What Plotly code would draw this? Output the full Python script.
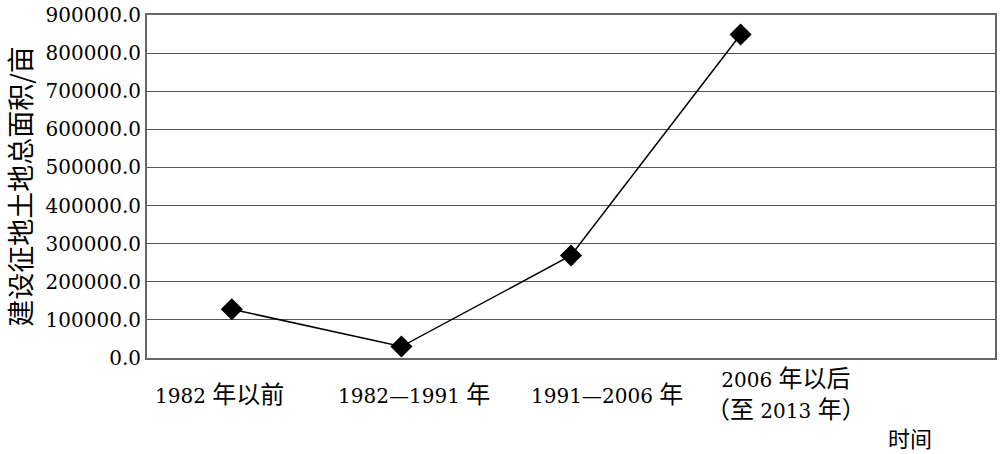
import plotly.graph_objects as go

categories = ["1982 年以前", "1982—1991 年", "1991—2006 年", "2006 年以后<br>（至 2013 年）"]
values = [128000, 30000, 269000, 849000]
y_ticks = [0, 100000, 200000, 300000, 400000, 500000, 600000, 700000, 800000, 900000]
y_title = "建设征地土地总面积/亩"
x_title = "时间"

SERIF = "'DejaVu Serif', 'Liberation Serif', serif"
CJK = "'Noto Sans CJK SC'"
label_shift = [-12, 13, 36, 45]

x_idx = list(range(len(categories)))

fig = go.Figure()
fig.add_trace(go.Scatter(
    x=x_idx, y=values, mode="lines+markers",
    line=dict(color="black", width=1.5),
    marker=dict(symbol="diamond", size=17, color="black"),
    showlegend=False,
))

def mixed(s):
    out = ""
    for ch in s:
        if ord(ch) > 0x2e80:
            out += ch
        else:
            out += f"<span style=\"font-family:{SERIF};font-size:20px\">{ch}</span>"
    return out

for i, c in enumerate(categories):
    fig.add_annotation(
        x=i, xref="x", y=0, yref="paper", yanchor="middle", xanchor="center",
        yshift=-34, xshift=label_shift[i], showarrow=False, align="center",
        text="<br>".join(mixed(p) for p in c.split("<br>")),
        font=dict(family=CJK, size=24, color="black"),
    )

fig.add_annotation(
    x=len(categories), xref="x", y=0, yref="paper", yanchor="middle", xanchor="center",
    yshift=-79, showarrow=False, text=x_title,
    font=dict(family=CJK, size=22, color="black"),
)

fig.update_layout(
    width=1000, height=454,
    margin=dict(l=147, r=3, t=14, b=96),
    paper_bgcolor="white", plot_bgcolor="white",
    xaxis=dict(
        range=[-0.5, len(categories) + 0.5],
        showticklabels=False, showgrid=False, zeroline=False,
        showline=True, linecolor="#666", linewidth=2, mirror=True,
    ),
    yaxis=dict(
        range=[0, 900000], tickvals=y_ticks,
        ticktext=[f"{v:.1f}" for v in y_ticks],
        tickfont=dict(family=SERIF, size=20, color="black"),
        showgrid=True, gridcolor="#555", gridwidth=1.2, zeroline=False,
        showline=True, linecolor="#666", linewidth=2, mirror=True,
        ticks="", ticklabelstandoff=0,
        title=dict(text=y_title, font=dict(family=CJK, size=27, color="black"), standoff=6),
    ),
)

fig.write_html(
    "out.html",
    config={"displayModeBar": False},
    post_script="document.body.style.margin='0';document.body.style.overflow='hidden';",
)
